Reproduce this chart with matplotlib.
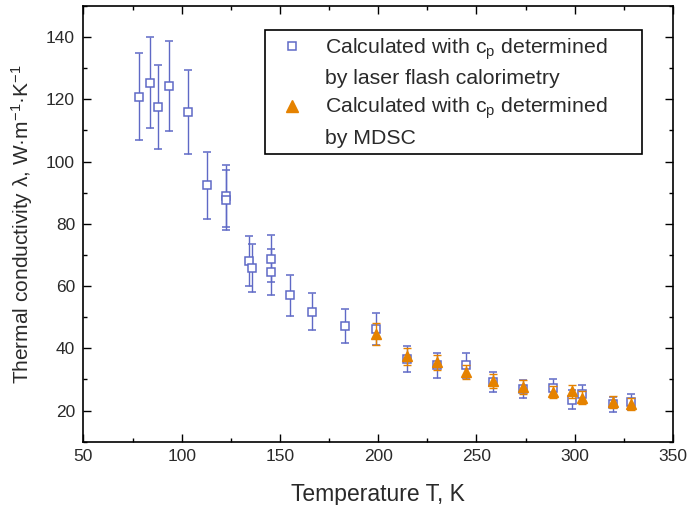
import matplotlib
matplotlib.use("Agg")
import matplotlib.pyplot as plt
from matplotlib.lines import Line2D
from matplotlib.ticker import MultipleLocator

plt.rcParams['font.family'] = ['Liberation Sans', 'DejaVu Sans']
plt.rcParams['mathtext.fontset'] = 'custom'
plt.rcParams['mathtext.rm'] = 'Liberation Sans'
plt.rcParams['mathtext.it'] = 'Liberation Sans'

# Laser flash calorimetry series
T_lfc = [78.3, 84.0, 88.0, 93.6, 103.1, 112.7, 122.7, 122.7, 134.1, 135.8, 145.5, 145.5,
         154.9, 166.5, 183.3, 199.0, 214.7, 229.9, 244.8, 258.6, 273.6, 288.8, 298.6,
         303.7, 319.4, 328.7]
lam_lfc = [120.8, 125.3, 117.6, 124.3, 116.0, 92.4, 89.0, 87.6, 68.0, 65.9, 68.8, 64.5,
           57.0, 51.8, 47.3, 46.3, 36.6, 34.5, 34.5, 29.3, 27.0, 27.3, 23.5,
           25.3, 22.0, 22.7]
err_lfc = [14.0, 14.6, 13.6, 14.4, 13.4, 10.7, 10.0, 9.7, 8.0, 7.7, 7.6, 7.5,
           6.6, 6.0, 5.5, 5.2, 4.2, 4.1, 4.0, 3.2, 2.9, 3.0, 3.0,
           2.8, 2.5, 2.5]

# MDSC series
T_mdsc = [199.0, 214.7, 229.9, 244.8, 258.6, 273.6, 288.8, 298.6, 303.7, 319.4, 328.7]
lam_mdsc = [44.7, 37.4, 35.5, 32.3, 29.6, 27.5, 25.9, 26.2, 24.2, 22.7, 22.1]
err_mdsc = [3.5, 2.7, 2.5, 2.2, 2.2, 2.2, 2.0, 2.0, 2.0, 2.0, 2.0]

label_lfc = ["Calculated with c$_\\mathregular{p}$ determined", "by laser flash calorimetry"]
label_mdsc = ["Calculated with c$_\\mathregular{p}$ determined", "by MDSC"]

blue = '#5f69c6'
orange = '#e58200'
txt = '#2a2a2a'

fig = plt.figure(figsize=(6.88, 5.05), dpi=100)
ax = fig.add_axes([0.1212, 0.1253, 0.8570, 0.8628])

ax.errorbar(T_lfc, lam_lfc, yerr=err_lfc, fmt='s', ms=6, mfc='white', mec=blue,
            mew=1.1, ecolor=blue, elinewidth=1.0, capsize=3.2, capthick=1.0, zorder=2)
ax.errorbar(T_mdsc, lam_mdsc, yerr=err_mdsc, fmt='^', ms=7.5, mfc=orange, mec=orange,
            ecolor=orange, elinewidth=1.0, capsize=3.2, capthick=1.0, zorder=3)

ax.set_xlim(50, 350)
ax.set_ylim(10, 150)
ax.xaxis.set_major_locator(MultipleLocator(50))
ax.xaxis.set_minor_locator(MultipleLocator(25))
ax.yaxis.set_minor_locator(MultipleLocator(10))
ax.set_yticks([20, 40, 60, 80, 100, 120, 140])
ax.tick_params(which='both', direction='in', top=True, right=True, colors='black',
               labelcolor=txt, labelsize=12.5, width=1.0)
ax.tick_params(which='major', length=6)
ax.tick_params(which='minor', length=3)
ax.tick_params(axis='x', pad=5)
ax.tick_params(axis='y', pad=6)
for s in ax.spines.values():
    s.set_linewidth(1.2)

ax.set_xlabel("Temperature T, K", fontsize=16.5, color=txt, labelpad=14)
ax.set_ylabel("Thermal conductivity λ, W·m$^\\mathregular{-1}$·K$^\\mathregular{-1}$",
              fontsize=15, color=txt, labelpad=8)

h_sq = Line2D([], [], ls='none', marker='s', ms=6, mfc='white', mec=blue, mew=1.1)
h_tr = Line2D([], [], ls='none', marker='^', ms=8, mfc=orange, mec=orange)
h_none = Line2D([], [], ls='none')
leg = ax.legend([h_sq, h_none, h_tr, h_none],
                [label_lfc[0], label_lfc[1], label_mdsc[0], label_mdsc[1]],
                loc='upper left', bbox_to_anchor=(0.308, 0.6636, 0.639, 0.281),
                mode='expand', fontsize=15.3,
                frameon=True, fancybox=False, edgecolor='black', framealpha=1,
                labelspacing=0.36, handlelength=2.0, handletextpad=0.55,
                borderpad=0.28, borderaxespad=0, labelcolor=txt)
leg.get_frame().set_linewidth(1.2)

fig.savefig('out.png', dpi=100)
